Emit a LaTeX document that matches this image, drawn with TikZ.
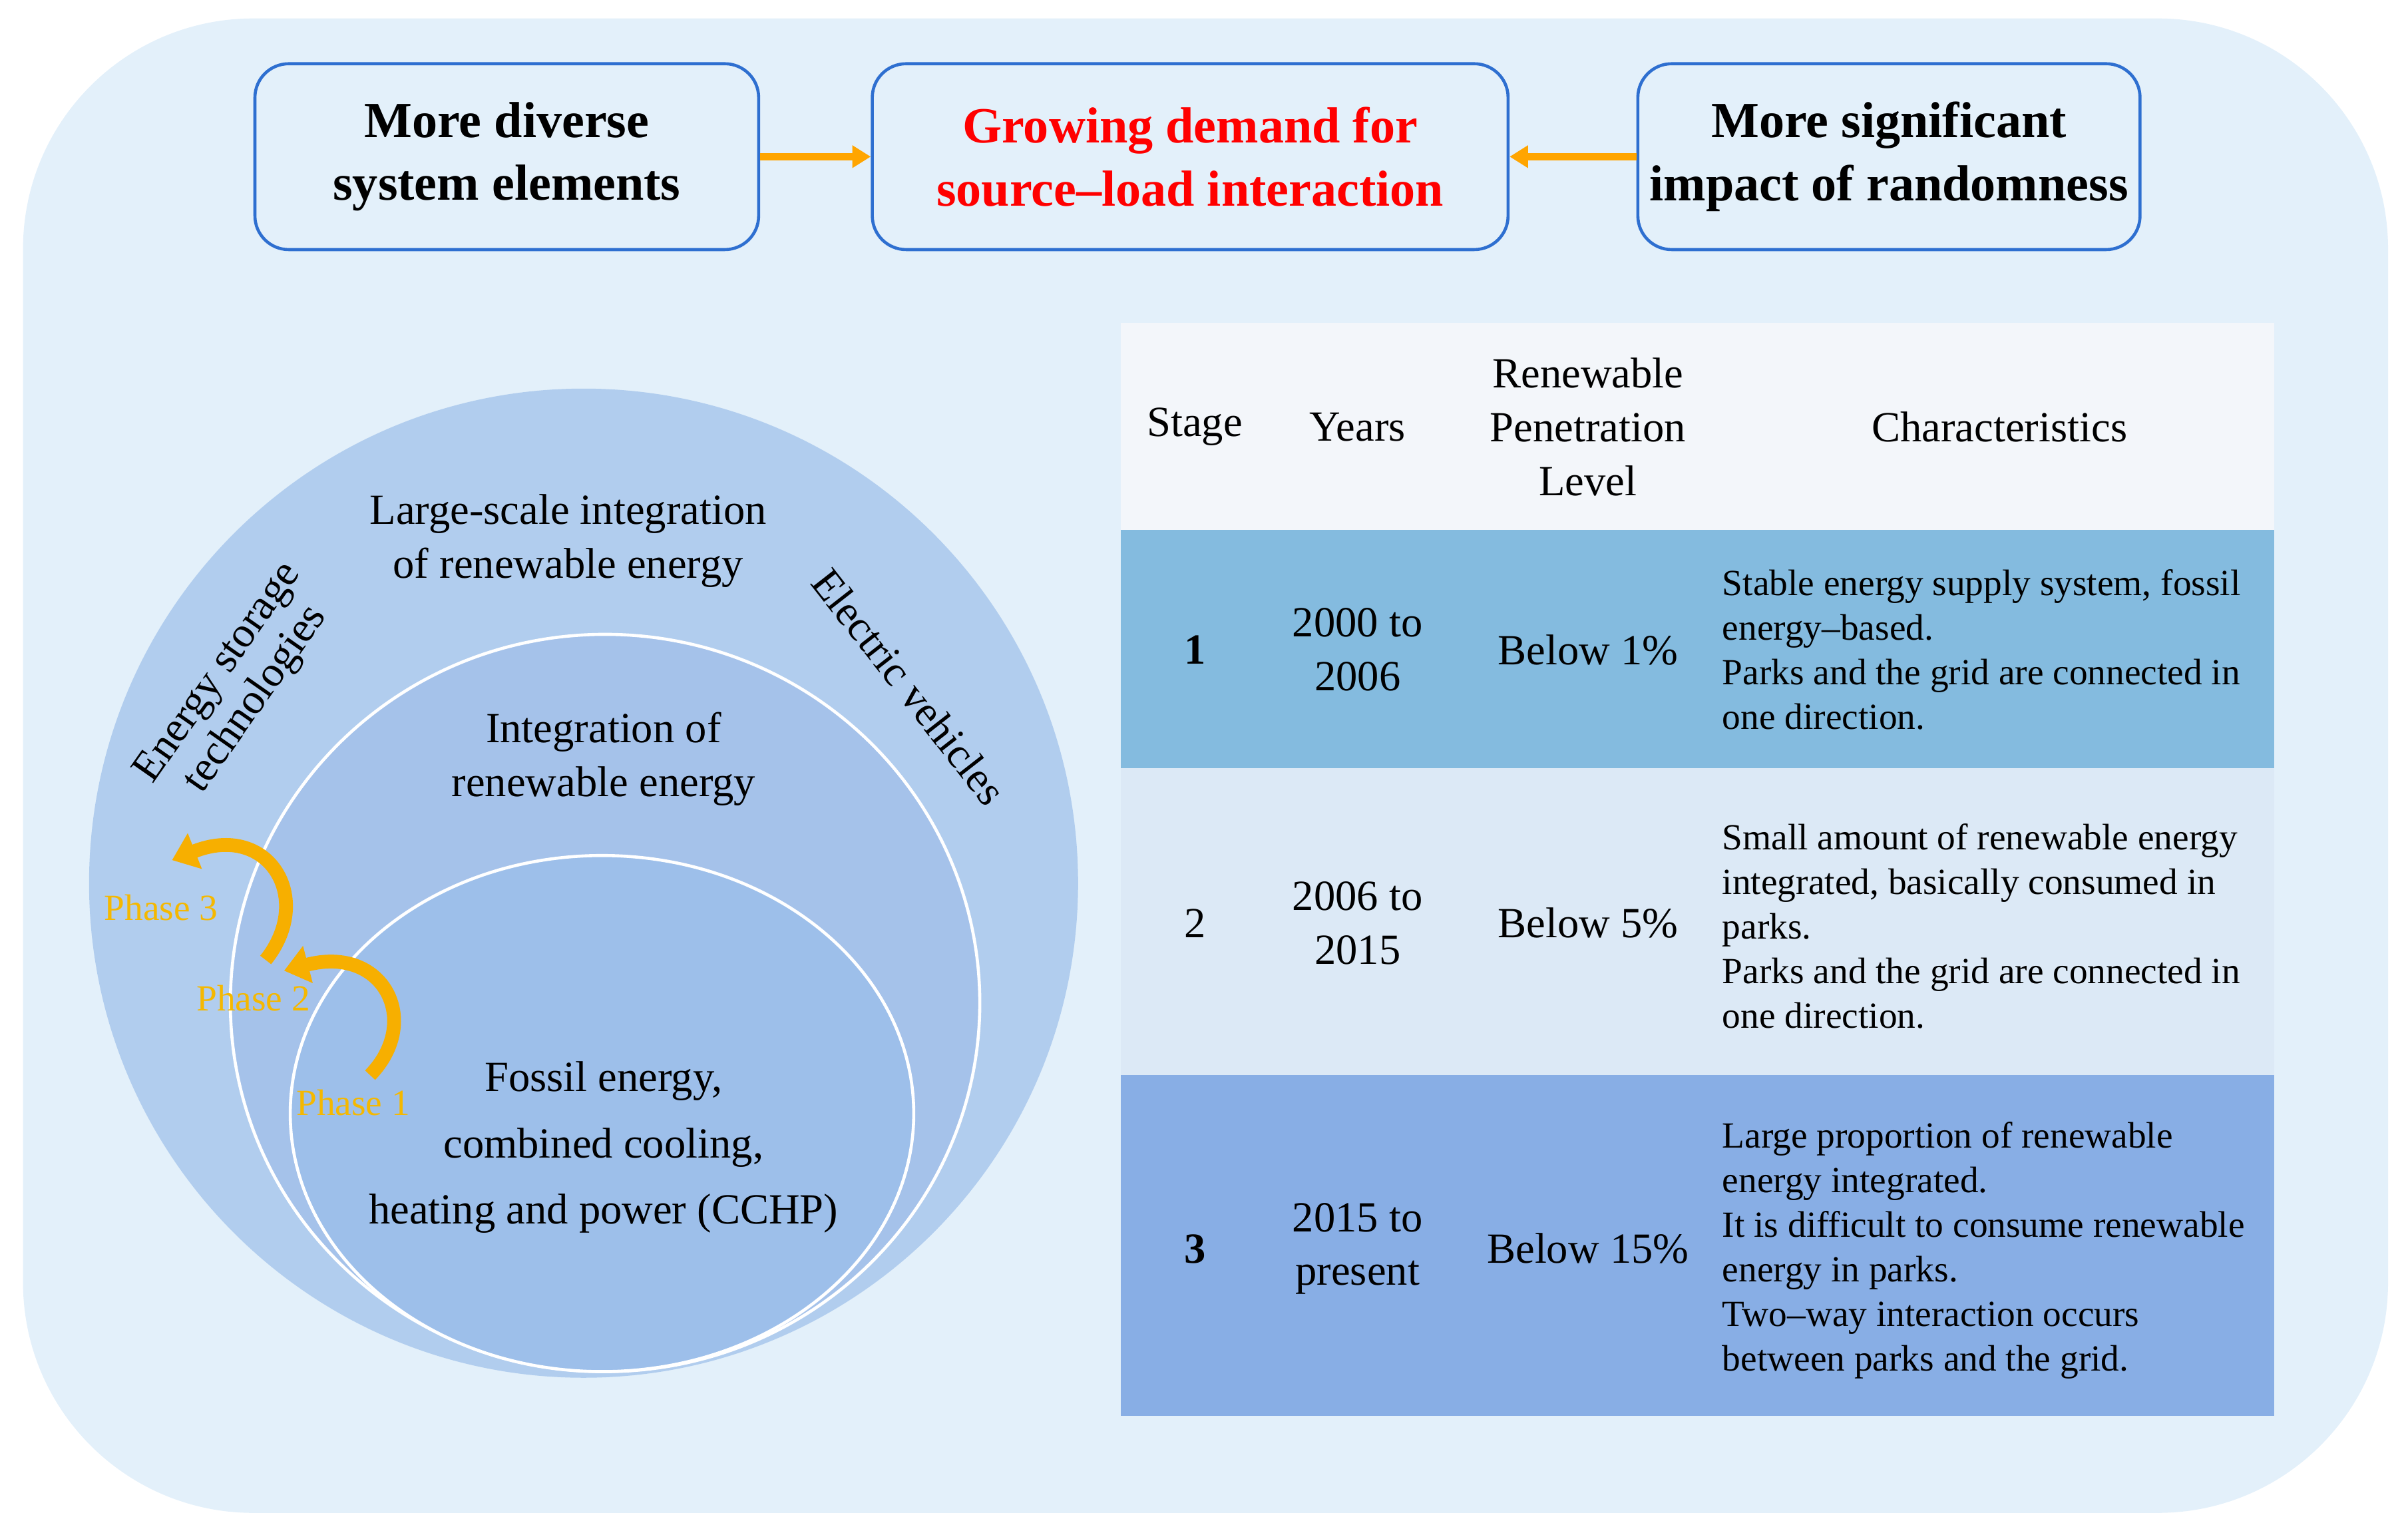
\documentclass[tikz,border=0pt]{standalone}
\usepackage{fontspec}
\setmainfont{Liberation Serif}
\usetikzlibrary{arrows.meta}
\definecolor{bg}{HTML}{E3F0FA}
\definecolor{bx}{HTML}{2E6FD0}
\definecolor{org}{HTML}{FFA500}
\definecolor{ph}{HTML}{F5B800}
\definecolor{c1}{HTML}{B1CDEE}
\definecolor{c2}{HTML}{A5C2EA}
\definecolor{c3}{HTML}{9DBFEA}
\definecolor{r0}{HTML}{F3F6FA}
\definecolor{r1}{HTML}{84BBDF}
\definecolor{r2}{HTML}{DCE9F6}
\definecolor{r3}{HTML}{88AEE5}
\begin{document}
\begin{tikzpicture}[x=1pt,y=-1pt,
 top/.style={draw=bx,line width=2pt,rounded corners=22pt,fill=bg,minimum width=#1,minimum height=121pt,align=center,font=\fontsize{33}{41}\selectfont\bfseries},
 conn/.style={org,line width=5pt,-{Triangle[width=14pt,length=12pt]}},
 ptxt/.style={font=\fontsize{28}{35}\selectfont,align=center},
 phase/.style={ph,font=\fontsize{24}{26}\selectfont},
 parr/.style={ph!85!orange,line width=9pt,-{Triangle[width=24pt,length=16pt]}},
 cell/.style={font=\fontsize{28}{35}\selectfont,align=center},
 ch/.style={font=\fontsize{24}{29}\selectfont,align=left,anchor=west}]
\useasboundingbox (0,0) rectangle (1568,998);
\fill[bg,rounded corners=150pt] (15,12) rectangle (1555,985);
\node[top=328pt] (a) at (330,102) {More diverse\\system elements};
\node[top=414pt,text=red] (b) at (775,102) {Growing demand for\\source--load interaction};
\node[top=327pt] (c) at (1230,102) {More significant\\impact of randomness};
\draw[conn] (a.east) -- (b.west);
\draw[conn] (c.west) -- (b.east);
% circles
\fill[c1] (380,575) circle (322);
\draw[white,line width=2pt,fill=c2] (394,653) ellipse (244 and 240);
\draw[white,line width=2pt,fill=c3] (392,725) ellipse (203 and 168);
\node[ptxt] (t1) at (370,352) {Large-scale integration\\of renewable energy};
\node[ptxt] (t2) at (393,494) {Integration of\\renewable energy};
\node[ptxt,font=\fontsize{28}{43}\selectfont] (t3) at (393,747) {Fossil energy,\\combined cooling,\\heating and power (CCHP)};
\node[ptxt,rotate=55,font=\fontsize{28}{30}\selectfont] (t4) at (155,447) {Energy storage\\technologies};
\node[ptxt,rotate=-52] (t5) at (592,447) {Electric vehicles};
\node[phase] (p1) at (230,718) {Phase 1};
\node[phase] (p2) at (165,650) {Phase 2};
\node[phase] (p3) at (105,591) {Phase 3};
\draw[parr] (241,700) .. controls (275,665) and (250,615) .. (185,632);
\draw[parr] (173,625) .. controls (205,585) and (175,535) .. (112,560);
% table
\fill[r0] (730,210) rectangle (1481,345);
\fill[r1] (730,345) rectangle (1481,500);
\fill[r2] (730,500) rectangle (1481,700);
\fill[r3] (730,700) rectangle (1481,922);
\node[cell] (h1) at (778,278) {Stage};
\node[cell] (h2) at (884,278) {Years};
\node[cell] (h3) at (1034,278) {Renewable\\Penetration\\Level};
\node[cell] (h4) at (1302,278) {Characteristics};
\node[cell,font=\fontsize{28}{35}\selectfont\bfseries] (s1) at (778,423) {1};
\node[cell] (y1) at (884,423) {2000 to\\2006};
\node[cell] (l1) at (1034,423) {Below 1\%};
\node[ch] (k1) at (1118,423) {Stable energy supply system, fossil\\energy--based.\\Parks and the grid are connected in\\one direction.};
\node[cell] (s2) at (778,601) {2};
\node[cell] (y2) at (884,601) {2006 to\\2015};
\node[cell] (l2) at (1034,601) {Below 5\%};
\node[ch] (k2) at (1118,603) {Small amount of renewable energy\\integrated, basically consumed in\\parks.\\Parks and the grid are connected in\\one direction.};
\node[cell,font=\fontsize{28}{35}\selectfont\bfseries] (s3) at (778,813) {3};
\node[cell] (y3) at (884,813) {2015 to\\present};
\node[cell] (l3) at (1034,813) {Below 15\%};
\node[ch] (k3) at (1118,814) {Large proportion of renewable\\energy integrated.\\It is difficult to consume renewable\\energy in parks.\\Two--way interaction occurs\\between parks and the grid.};
\end{tikzpicture}
\end{document}
